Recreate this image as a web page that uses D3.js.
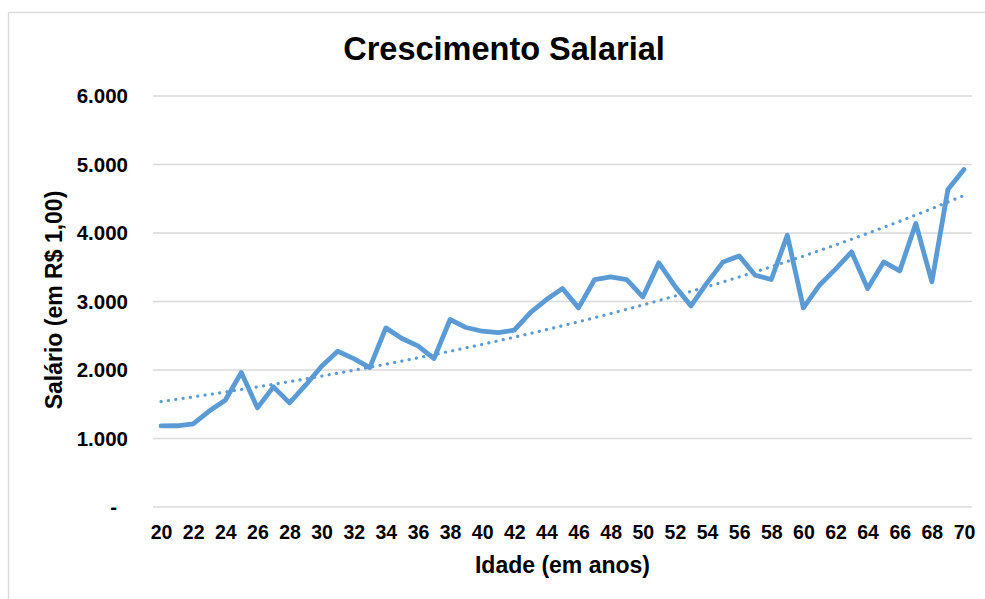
<!DOCTYPE html>
<html>
<head>
<meta charset="utf-8">
<script src="https://cdn.jsdelivr.net/npm/d3@7"></script>
<style>
  html, body { margin: 0; padding: 0; background: #fff; }
  svg { display: block; font-family: "Liberation Sans", Arial, sans-serif; }
</style>
</head>
<body>
<div id="chart"></div>
<script>
// ages on the category axis
const ages = d3.range(20, 71);
// salary, one per age
const salaries = [
  1184, 1186, 1215, 1400, 1559, 1963, 1447, 1754, 1520, 1778,
  2055, 2274, 2167, 2036, 2615, 2460, 2352, 2167, 2737, 2620,
  2566, 2547, 2581, 2839, 3029, 3190, 2907, 3321, 3360, 3321,
  3067, 3564, 3223, 2936, 3272, 3578, 3666, 3384, 3321, 3968,
  2907, 3238, 3472, 3724, 3190, 3578, 3447, 4139, 3286, 4635,
  4927
];
const yTicks = [0, 1000, 2000, 3000, 4000, 5000, 6000];
const xLabelAges = ages.filter((a) => a % 2 === 0);

const title = "Crescimento Salarial";
const xTitle = "Idade (em anos)";
const yTitle = "Salário (em R$ 1,00)";

const svgWidth = 985;
const svgHeight = 599;
const marginLeft = 153;
const marginRight = 13;
const marginTop = 96;
const marginBottom = 92;

const lineColor = "#5B9BD5";
const gridColor = "#d9d9d9";

const width = svgWidth - marginLeft - marginRight;
const height = svgHeight - marginTop - marginBottom;

const data = ages.map((a, i) => ({ age: a, value: salaries[i] }));

// exponential trend line (least squares on ln y), like the spreadsheet one
const xs = data.map((d, i) => i + 1);
const ls = data.map((d) => Math.log(d.value));
const mx = d3.mean(xs);
const ml = d3.mean(ls);
const b =
  d3.sum(xs, (x, i) => (x - mx) * (ls[i] - ml)) /
  d3.sum(xs, (x) => (x - mx) * (x - mx));
const a = Math.exp(ml - b * mx);
const trend = data.map((d, i) => ({ age: d.age, value: a * Math.exp(b * (i + 1)) }));

const svg = d3
  .select("#chart")
  .append("svg")
  .attr("width", svgWidth)
  .attr("height", svgHeight);

// chart area border
svg
  .append("rect")
  .attr("x", 8.5)
  .attr("y", 12.5)
  .attr("width", svgWidth)
  .attr("height", svgHeight)
  .attr("fill", "none")
  .attr("stroke", gridColor)
  .attr("stroke-width", 1.3);

const chart = svg
  .append("g")
  .attr("transform", `translate(${marginLeft}, ${marginTop})`);

// Scales
const x = d3.scalePoint().domain(ages).range([0, width]).padding(0.5);
const y = d3.scaleLinear().domain([0, 6000]).range([height, 0]);

// gridlines
chart
  .append("g")
  .selectAll("line")
  .data(yTicks)
  .join("line")
  .attr("x1", 0)
  .attr("x2", width)
  .attr("y1", (d) => y(d))
  .attr("y2", (d) => y(d))
  .attr("stroke", gridColor)
  .attr("stroke-width", 1.3);

// y axis
const yAxis = chart
  .append("g")
  .attr("transform", "translate(-25, 0)")
  .call(
    d3
      .axisLeft(y)
      .tickValues(yTicks)
      .tickSize(0)
      .tickFormat((d) => (d === 0 ? "-" : d3.format(",")(d).replace(/,/g, ".")))
  );
yAxis.select(".domain").remove();
yAxis
  .selectAll("text")
  .attr("font-family", "'Liberation Sans', Arial, sans-serif")
  .attr("font-size", 20.5)
  .attr("font-weight", "bold")
  .attr("fill", "#000")
  .attr("x", (d) => (d === 0 ? -11 : 0));

// x axis
const xAxis = chart
  .append("g")
  .attr("transform", `translate(0, ${height})`)
  .call(d3.axisBottom(x).tickValues(xLabelAges).tickSize(0).tickPadding(18));
xAxis.select(".domain").remove();
xAxis
  .selectAll("text")
  .attr("font-family", "'Liberation Sans', Arial, sans-serif")
  .attr("font-size", 19.5)
  .attr("font-weight", "bold")
  .attr("fill", "#000");

// series line
const line = d3
  .line()
  .x((d) => x(d.age))
  .y((d) => y(d.value));

chart
  .append("path")
  .datum(data)
  .attr("d", line)
  .attr("fill", "none")
  .attr("stroke", lineColor)
  .attr("stroke-width", 4.8)
  .attr("stroke-linejoin", "round")
  .attr("stroke-linecap", "round");

// dotted trend
chart
  .append("path")
  .datum(trend)
  .attr("d", line)
  .attr("fill", "none")
  .attr("stroke", lineColor)
  .attr("stroke-width", 3.2)
  .attr("stroke-linecap", "round")
  .attr("stroke-dasharray", "0.1 7.3");

// titles
svg
  .append("text")
  .attr("x", 504)
  .attr("y", 60)
  .attr("text-anchor", "middle")
  .attr("font-size", 32.5)
  .attr("font-weight", "bold")
  .text(title);

svg
  .append("text")
  .attr("x", marginLeft + width / 2)
  .attr("y", 573)
  .attr("text-anchor", "middle")
  .attr("font-size", 23)
  .attr("font-weight", "bold")
  .text(xTitle);

svg
  .append("text")
  .attr("transform", `translate(61.5, 300) rotate(-90)`)
  .attr("text-anchor", "middle")
  .attr("font-size", 23)
  .attr("font-weight", "bold")
  .text(yTitle);
</script>
</body>
</html>
